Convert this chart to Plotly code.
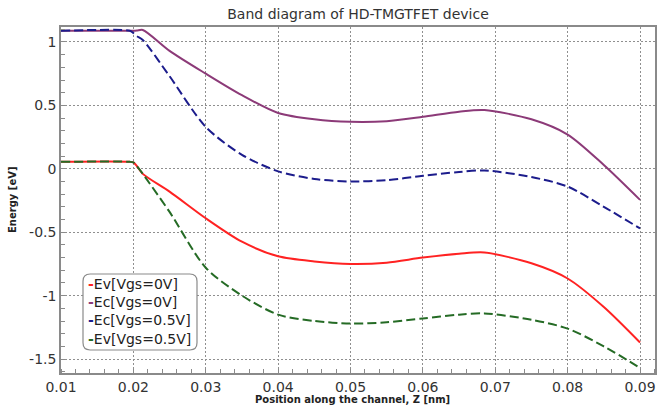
import plotly.graph_objects as go

z = [0.01, 0.0195, 0.02, 0.0205, 0.0213, 0.025, 0.03, 0.035, 0.04, 0.045,
     0.05, 0.055, 0.06, 0.065, 0.0685, 0.075, 0.08, 0.085, 0.09]
ev_0 = [0.055, 0.055, 0.05, 0.02, -0.04, -0.18, -0.39, -0.575, -0.69, -0.73,
        -0.75, -0.74, -0.70, -0.67, -0.66, -0.745, -0.865, -1.09, -1.37]
ec_0 = [1.088, 1.088, 1.088, 1.09, 1.095, 0.93, 0.75, 0.58, 0.44, 0.39,
        0.37, 0.375, 0.41, 0.45, 0.463, 0.39, 0.27, 0.03, -0.245]
ec_05 = [1.088, 1.088, 1.07, 1.045, 1.016, 0.73, 0.33, 0.11, -0.02, -0.08,
         -0.10, -0.09, -0.055, -0.025, -0.013, -0.065, -0.14, -0.30, -0.47]
ev_05 = [0.055, 0.055, 0.05, 0.02, -0.04, -0.34, -0.78, -1.0, -1.15, -1.20,
         -1.22, -1.21, -1.18, -1.15, -1.14, -1.19, -1.26, -1.40, -1.57]

names = ["Ev[Vgs=0V]", "Ec[Vgs=0V]", "Ec[Vgs=0.5V]", "Ev[Vgs=0.5V]"]
x_ticks = [0.01, 0.02, 0.03, 0.04, 0.05, 0.06, 0.07, 0.08, 0.09]
x_tick_text = ["0.01", "0.02", "0.03", "0.04", "0.05", "0.06", "0.07", "0.08", "0.09"]
y_ticks = [-1.5, -1, -0.5, 0, 0.5, 1]
y_tick_text = ["-1.5", "-1", "-0.5", "0", "0.5", "1"]

colors = ["#ff2222", "#8c3a78", "#1c1c8c", "#256b25"]
dashes = ["solid", "solid", "9px,4px", "9px,4px"]
series = [ev_0, ec_0, ec_05, ev_05]

# plot-area geometry in pixels (664x405 figure)
L, R, T, B = 61, 655, 27, 373
PW, PH = R - L, B - T


def px(xp):
    return (xp - L) / PW


def py(yp):
    return (B - yp) / PH


fig = go.Figure()
for vals, col, dash, nm in zip(series, colors, dashes, names):
    fig.add_trace(go.Scatter(
        x=z, y=vals, name=nm, mode="lines", showlegend=False,
        line=dict(color=col, width=2, dash=dash, shape="spline", smoothing=0.8),
    ))

axis_common = dict(
    showline=True, linecolor="#8a8a8a", linewidth=1.5, mirror=True,
    showgrid=True, gridcolor="#8f8f8f", griddash="2px,2px", gridwidth=1,
    zeroline=False, ticks="", automargin=False,
    tickfont=dict(family="DejaVu Sans", size=14, color="#333333"),
)

fig.update_xaxes(
    range=[0.01, 0.09207], tickvals=x_ticks, ticktext=x_tick_text,
    minor=dict(ticks="inside", ticklen=4, tickcolor="#8a8a8a", dtick=0.002, showgrid=False),
    **axis_common,
)
fig.update_yaxes(
    range=[-1.61, 1.118], tickvals=y_ticks, ticktext=y_tick_text,
    minor=dict(ticks="inside", ticklen=4, tickcolor="#8a8a8a", dtick=0.1, showgrid=False),
    **axis_common,
)

# legend box with rounded corners
x0, x1, y0, y1, r = px(83), px(197), py(350), py(274), 0.012
ry = r * PW / PH
fig.add_shape(
    type="path", xref="paper", yref="paper",
    path=(f"M {x0 + r},{y0} L {x1 - r},{y0} Q {x1},{y0} {x1},{y0 + ry} "
          f"L {x1},{y1 - ry} Q {x1},{y1} {x1 - r},{y1} "
          f"L {x0 + r},{y1} Q {x0},{y1} {x0},{y1 - ry} "
          f"L {x0},{y0 + ry} Q {x0},{y0} {x0 + r},{y0} Z"),
    line=dict(color="#8a8a8a", width=1.2), fillcolor="white", layer="above",
)
legend_text = "<br>".join(
    f"<span style='color:{c}'><b>-</b></span>{n}" for c, n in zip(colors, names)
)
fig.add_annotation(
    xref="paper", yref="paper", x=px(86), y=py(311.5), xanchor="left", yanchor="middle",
    text=legend_text, showarrow=False, align="left",
    font=dict(family="DejaVu Sans", size=14, color="#222222"),
)

# axis titles
fig.add_annotation(
    xref="paper", yref="paper", x=px(352), y=py(399), xanchor="center", yanchor="middle",
    text="<b>Position along the channel, Z [nm]</b>", showarrow=False,
    font=dict(family="DejaVu Sans", size=10, color="#222222"),
)
fig.add_annotation(
    xref="paper", yref="paper", x=px(12), y=py(200), xanchor="center", yanchor="middle",
    text="<b>Energy [eV]</b>", showarrow=False, textangle=-90,
    font=dict(family="DejaVu Sans", size=10, color="#222222"),
)

fig.update_layout(
    width=664, height=405,
    margin=dict(l=L, r=664 - R, t=T, b=405 - B, autoexpand=False),
    paper_bgcolor="white", plot_bgcolor="white",
    title=dict(text="Band diagram of HD-TMGTFET device", x=358 / 664, xanchor="center",
               y=1 - 14 / 405, yanchor="middle",
               font=dict(family="DejaVu Sans", size=14, color="#333333")),
    showlegend=False,
)

fig.write_html(
    "out.html",
    config={"displayModeBar": False},
    post_script="document.body.style.margin='0';document.body.style.overflow='hidden';",
)
